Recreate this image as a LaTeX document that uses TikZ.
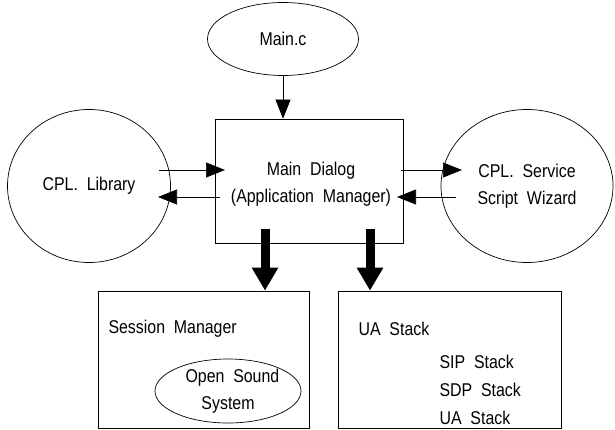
\documentclass[tikz,border=0pt]{standalone}
\usepackage{fontspec}
\setmainfont{Liberation Sans}[FakeStretch=0.86]
\usetikzlibrary{shapes.geometric,arrows.meta}
\begin{document}
\begin{tikzpicture}[x=1pt,y=-1pt,
  every node/.style={font=\fontsize{18.5}{27}\selectfont},
  oval/.style={draw,ellipse,line width=0.7pt,inner sep=0pt},
  blk/.style={draw,line width=0.7pt,inner sep=0pt},
  thin/.style={line width=0.7pt,-{Triangle[length=19pt,width=15pt]}},
  fat/.style={line width=9pt,-{Triangle[length=23pt,width=25pt]}}]
\useasboundingbox (0,0) rectangle (615,430);
\node[oval,minimum width=151,minimum height=73] (mainc) at (283,39) {Main.c};
\node[blk,minimum width=188,minimum height=124] (dlg) at (309,181) {};
\node[align=center] (dlgt) at (311,184) {Main\ \ Dialog\\(Application\ \ Manager)};
\node[oval,minimum width=163,minimum height=153] (lib) at (89,186) {CPL.\ \ Library};
\node[oval,minimum width=172,minimum height=153,align=center] (wiz) at (527,186) {CPL.\ \ Service\\Script\ \ Wizard};
\node[blk,minimum width=211,minimum height=137] (sess) at (203.5,359.5) {};
\node[blk,minimum width=223,minimum height=137] (ua) at (449.5,359.5) {};
\node[anchor=west] (sesst) at (105,329) {Session\ \ Manager};
\node[oval,minimum width=146,minimum height=64,align=center] (oss) at (228,391) {\ \ Open\ \ Sound\\System};
\node[anchor=west] (uat) at (355,329) {UA\ \ Stack};
\node[anchor=west] (sip) at (436,362) {SIP\ \ Stack};
\node[anchor=west] (sdp) at (436,390) {SDP\ \ Stack};
\node[anchor=west] (uas) at (436,418) {UA\ \ Stack};
\coordinate (l1) at (159,170);
\coordinate (l1e) at (225,170);
\coordinate (l2) at (158,197);
\coordinate (l2s) at (220,197);
\coordinate (r1) at (401,170);
\coordinate (r1e) at (462,170);
\coordinate (r2) at (456,197);
\coordinate (r2e) at (397,197);
\coordinate (f1) at (265,229);
\coordinate (f2) at (370,229);
\draw[thin] (mainc.south) -- (mainc.south |- dlg.north);
\draw[thin] (l1) -- (l1e);
\draw[thin] (l2s) -- (l2);
\draw[thin] (r1) -- (r1e);
\draw[thin] (r2) -- (r2e);
\draw[fat] (f1) -- (f1 |- sess.north);
\draw[fat] (f2) -- (f2 |- ua.north);
\end{tikzpicture}
\end{document}
